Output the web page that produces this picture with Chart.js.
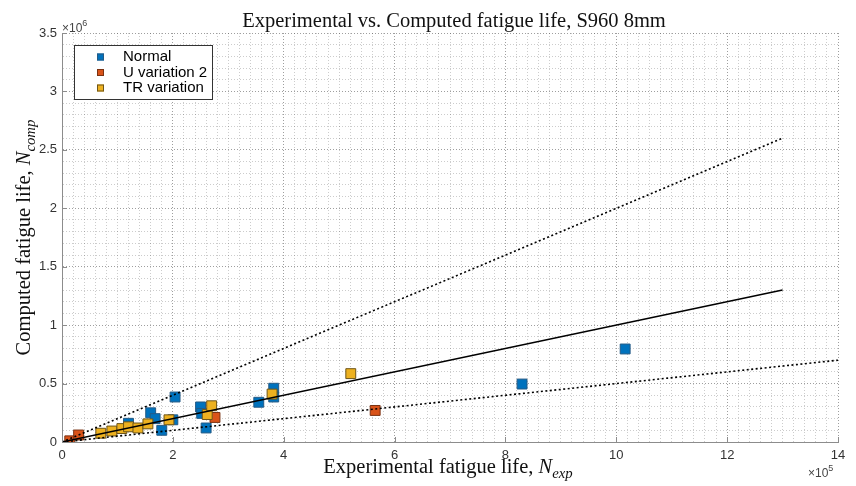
<!DOCTYPE html>
<html>
<head>
<meta charset="utf-8">
<script src="https://cdn.jsdelivr.net/npm/chart.js@4.4.0/dist/chart.umd.min.js"></script>
<style>
  html, body { margin: 0; padding: 0; background: #fff; }
  canvas { display: block; }
</style>
</head>
<body>
<canvas id="fatigue" width="856" height="486"></canvas>
<script>
// experimental life in units of 1e5 cycles, computed life in units of 1e6 cycles
var normalExp  = [1.2, 1.6, 1.68, 1.8, 2.0, 2.04, 2.5, 2.52, 2.6, 3.55, 3.82, 3.82, 8.3, 10.16];
var normalComp = [0.16, 0.25, 0.2, 0.1, 0.19, 0.385, 0.3, 0.245, 0.12, 0.34, 0.46, 0.385, 0.496, 0.796];
var uvarExp  = [0.14, 0.3, 2.76, 5.65];
var uvarComp = [0.01, 0.06, 0.21, 0.27];
var trExp  = [0.7, 0.9, 1.08, 1.2, 1.37, 1.55, 1.93, 2.62, 2.7, 3.79, 5.21];
var trComp = [0.075, 0.094, 0.115, 0.13, 0.12, 0.155, 0.19, 0.235, 0.31, 0.41, 0.585];

// scatter bands: N_comp = N_exp, 2*N_exp and N_exp/2
var bandExp    = [0, 13];
var bandEq     = [0, 1.3];
var bandUpper  = [0, 2.6];
var bandLowExp = [0, 14];
var bandLower  = [0, 0.7];

var xTicks = [0, 2, 4, 6, 8, 10, 12, 14];
var yTicks = [0, 0.5, 1, 1.5, 2, 2.5, 3, 3.5];

function pts(xs, ys) {
	return xs.map(function(x, i) { return {x: x, y: ys[i]}; });
}
function isMajor(list, v) {
	return list.some(function(t) { return Math.abs(t - v) < 1e-6; });
}

var serif = '"Liberation Serif", "Times New Roman", serif';
var sans = '"Liberation Sans", Arial, sans-serif';

function drawRich(ctx, parts, x, y, size) {
	var w = 0;
	parts.forEach(function(p) {
		ctx.font = (p[1] ? 'italic ' : '') + (p[2] ? size * 0.72 : size) + 'px ' + serif;
		w += ctx.measureText(p[0]).width;
	});
	var cx = x - w / 2;
	parts.forEach(function(p) {
		ctx.font = (p[1] ? 'italic ' : '') + (p[2] ? size * 0.72 : size) + 'px ' + serif;
		ctx.fillText(p[0], cx, y + (p[2] ? size * 0.22 : 0));
		cx += ctx.measureText(p[0]).width;
	});
}

var decor = {
	id: 'decor',
	afterDraw: function(chart) {
		var ctx = chart.ctx, a = chart.chartArea;
		var xs = chart.scales.x, ys = chart.scales.y;
		ctx.save();

		// inward tick marks
		ctx.strokeStyle = '#8c8c8c';
		ctx.lineWidth = 1;
		ctx.beginPath();
		xTicks.forEach(function(v) {
			var px = Math.round(xs.getPixelForValue(v)) + 0.5;
			ctx.moveTo(px, a.bottom); ctx.lineTo(px, a.bottom - 5);
		});
		yTicks.forEach(function(v) {
			var py = Math.round(ys.getPixelForValue(v)) + 0.5;
			ctx.moveTo(a.left, py); ctx.lineTo(a.left + 5, py);
		});
		ctx.stroke();

		// title and axis labels
		ctx.fillStyle = '#111';
		ctx.textBaseline = 'alphabetic';
		ctx.textAlign = 'left';
		drawRich(ctx, [['Experimental vs. Computed fatigue life, S960 8mm']], (a.left + a.right) / 2 + 4, 27, 20.5);
		drawRich(ctx, [['Experimental fatigue life, '], ['N', true], ['exp', true, true]], (a.left + a.right) / 2 - 2, 473, 20.5);
		ctx.save();
		ctx.translate(30, (a.top + a.bottom) / 2);
		ctx.rotate(-Math.PI / 2);
		drawRich(ctx, [['Computed fatigue life, '], ['N', true], ['comp', true, true]], 0, 0, 20.5);
		ctx.restore();

		// exponent labels
		ctx.fillStyle = '#444';
		ctx.font = '12px ' + sans;
		ctx.fillText('\u00d710', a.left, a.top - 1);
		var w6 = ctx.measureText('\u00d710').width;
		ctx.font = '9px ' + sans;
		ctx.fillText('6', a.left + w6, a.top - 7);
		ctx.font = '12px ' + sans;
		ctx.fillText('\u00d710', a.right - 30, 477);
		var w5 = ctx.measureText('\u00d710').width;
		ctx.font = '9px ' + sans;
		ctx.fillText('5', a.right - 30 + w5, 471);

		// legend
		var lx = a.left + 12, ly = a.top + 12, lw = 138, lh = 54;
		ctx.fillStyle = '#fff';
		ctx.fillRect(lx, ly, lw, lh);
		ctx.strokeStyle = '#333';
		ctx.strokeRect(lx + 0.5, ly + 0.5, lw, lh);
		ctx.font = '15px ' + sans;
		ctx.textBaseline = 'middle';
		chart.data.datasets.slice(0, 3).forEach(function(ds, i) {
			var cy = ly + 12 + i * 15.5;
			ctx.fillStyle = ds.backgroundColor;
			ctx.fillRect(lx + 23, cy - 3.5, 7, 7);
			ctx.strokeStyle = ds.borderColor;
			ctx.strokeRect(lx + 23.5, cy - 3, 6, 6);
			ctx.fillStyle = '#000';
			ctx.fillText(ds.label, lx + 49, cy);
		});
		ctx.restore();
	}
};

var ctx = document.getElementById('fatigue').getContext('2d');
var chart = new Chart(ctx, {
	type: 'scatter',
	data: {
		datasets: [{
			label: 'Normal',
			data: pts(normalExp, normalComp),
			backgroundColor: '#0072BD',
			borderColor: '#245a85',
			borderWidth: 1,
			pointStyle: 'rect',
			pointRadius: 7,
			order: 3
		}, {
			label: 'U variation 2',
			data: pts(uvarExp, uvarComp),
			backgroundColor: '#D95319',
			borderColor: '#7a3212',
			borderWidth: 1,
			pointStyle: 'rect',
			pointRadius: 7,
			order: 2
		}, {
			label: 'TR variation',
			data: pts(trExp, trComp),
			backgroundColor: '#EDB120',
			borderColor: '#6e5518',
			borderWidth: 1,
			pointStyle: 'rect',
			pointRadius: 7,
			order: 1
		}, {
			label: 'equal',
			data: pts(bandExp, bandEq),
			showLine: true,
			borderColor: '#000',
			borderWidth: 1.5,
			pointRadius: 0,
			order: 0
		}, {
			label: 'upper',
			data: pts(bandExp, bandUpper),
			showLine: true,
			borderColor: '#000',
			borderWidth: 1.6,
			borderDash: [2, 2.5],
			pointRadius: 0,
			order: 0
		}, {
			label: 'lower',
			data: pts(bandLowExp, bandLower),
			showLine: true,
			borderColor: '#000',
			borderWidth: 1.6,
			borderDash: [2, 2.5],
			pointRadius: 0,
			order: 0
		}]
	},
	options: {
		responsive: false,
		animation: false,
		devicePixelRatio: 1,
		layout: { padding: { left: 0, right: 18, top: 33, bottom: 0 } },
		plugins: {
			legend: { display: false },
			tooltip: { enabled: false },
			title: { display: false }
		},
		scales: {
			x: {
				type: 'linear',
				min: 0,
				max: 14,
				afterFit: function(s) { s.height = 44; },
				ticks: {
					stepSize: 0.2,
					autoSkip: false,
					maxRotation: 0,
					padding: 6,
					color: '#333',
					font: { family: sans, size: 13 },
					callback: function(v) { return isMajor(xTicks, v) ? String(Math.round(v)) : ''; }
				},
				grid: {
					drawTicks: false,
					lineWidth: 1,
					color: function(c) { return isMajor(xTicks, c.tick.value) ? 'rgba(0,0,0,0.38)' : 'rgba(0,0,0,0.2)'; }
				},
				border: { color: '#8c8c8c', width: 1, dash: [1, 2] }
			},
			y: {
				type: 'linear',
				min: 0,
				max: 3.5,
				afterFit: function(s) { s.width = 62; },
				ticks: {
					stepSize: 0.1,
					autoSkip: false,
					padding: 5,
					color: '#333',
					font: { family: sans, size: 13 },
					callback: function(v) { return isMajor(yTicks, v) ? String(Math.round(v * 10) / 10) : ''; }
				},
				grid: {
					drawTicks: false,
					lineWidth: 1,
					color: function(c) { return isMajor(yTicks, c.tick.value) ? 'rgba(0,0,0,0.38)' : 'rgba(0,0,0,0.2)'; }
				},
				border: { color: '#8c8c8c', width: 1, dash: [1, 2] }
			}
		}
	},
	plugins: [decor]
});
</script>
</body>
</html>
